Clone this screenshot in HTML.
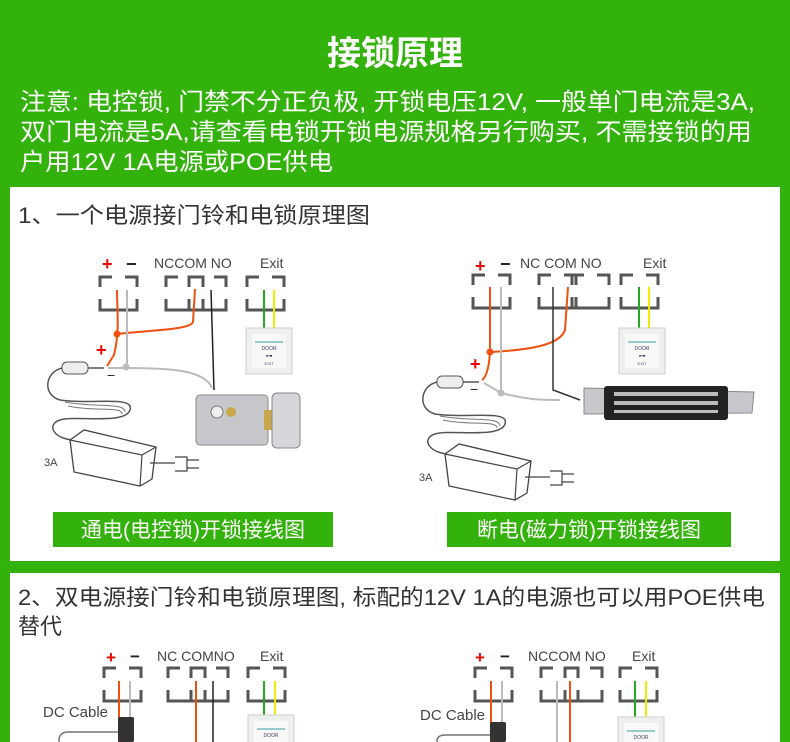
<!DOCTYPE html>
<html><head><meta charset="utf-8"><style>
html,body{margin:0;padding:0;background:#33b20b;}
svg{display:block}
text{font-family:"Liberation Sans","Noto Sans CJK SC",sans-serif}
</style></head><body>
<svg width="790" height="742" viewBox="0 0 790 742" xmlns="http://www.w3.org/2000/svg">
<rect width="790" height="742" fill="#33b20b"/>
<text x="395" y="65" fill="#fff" font-size="34" font-weight="bold" text-anchor="middle">接锁原理</text>
<g fill="#fff" font-size="24">
<text x="20" y="110" textLength="735" lengthAdjust="spacingAndGlyphs">注意: 电控锁, 门禁不分正负极, 开锁电压12V, 一般单门电流是3A,</text>
<text x="20" y="140" textLength="732" lengthAdjust="spacingAndGlyphs">双门电流是5A,请查看电锁开锁电源规格另行购买, 不需接锁的用</text>
<text x="20" y="170" textLength="313" lengthAdjust="spacingAndGlyphs">户用12V 1A电源或POE供电</text>
</g>
<rect x="10" y="187" width="770" height="374" fill="#fff"/>
<rect x="10" y="573" width="770" height="169" fill="#fff"/>
<text x="18" y="223" fill="#333" font-size="22" textLength="352" lengthAdjust="spacingAndGlyphs">1、一个电源接门铃和电锁原理图</text>
<text x="18" y="605" fill="#333" font-size="22" textLength="747" lengthAdjust="spacingAndGlyphs">2、双电源接门铃和电锁原理图, 标配的12V 1A的电源也可以用POE供电</text>
<text x="18" y="634" fill="#333" font-size="22">替代</text>

<defs>
<g id="blk">
<path d="M0 10V0H12 M25 0H37V10 M0 22V33H37V22" fill="none" stroke="#555" stroke-width="3"/>
</g>
<g id="exitbtn">
<rect x="0" y="0" width="46" height="46" fill="#eef0ee" stroke="#ccc"/>
<rect x="6" y="6" width="34" height="34" fill="#f8f8f8"/>
<line x1="9" y1="14" x2="37" y2="14" stroke="#7bb" stroke-width="1.5"/>
<text x="23" y="22" font-size="5" text-anchor="middle" fill="#446">DOOR</text>
<text x="23" y="30" font-size="7" text-anchor="middle" fill="#224">⊶</text>
<text x="23" y="37" font-size="4" text-anchor="middle" fill="#446">EXIT</text>
</g>
<g id="adapter">
<rect x="62" y="362" width="26" height="12" rx="5" fill="#eee" stroke="#555"/>
<line x1="88" y1="368" x2="104" y2="368" stroke="#555" stroke-width="1.5"/>
<path d="M62 368 C45 372 42 395 60 400 C90 405 135 395 130 410 C125 425 75 415 60 420 C45 425 55 440 75 440" fill="none" stroke="#555" stroke-width="1.5"/>
<path d="M65 402 C95 408 125 402 125 412 M68 406 C95 412 122 406 122 414" fill="none" stroke="#777" stroke-width="1"/>
<path d="M70 440 L84 430 L156 447 L152 479 L140 486 L74 472 Z" fill="#fff" stroke="#444" stroke-width="1.3"/>
<path d="M70 440 L142 455 L156 447 M142 455 L140 486" fill="none" stroke="#444" stroke-width="1.2"/>
<path d="M150 463 h25 M175 457 h12 v14 h-12 M187 460 h12 M187 468 h12" stroke="#444" fill="none" stroke-width="1.2"/>
</g>
</defs>

<!-- Diagram 1 -->
<g>
<text x="102" y="270" fill="#e00" font-size="18" font-weight="bold">+</text>
<text x="126" y="270" fill="#222" font-size="18" font-weight="bold">−</text>
<text x="154" y="268" fill="#444" font-size="14">NCCOM NO</text>
<text x="260" y="268" fill="#444" font-size="14">Exit</text>
<use href="#blk" x="100" y="277"/>
<use href="#blk" x="166" y="277"/><use href="#blk" x="189" y="277"/>
<use href="#blk" x="247" y="277"/>
<path d="M117 290 C117 310 120 330 114 355 L107 366" stroke="#f05010" stroke-width="2" fill="none"/>
<path d="M117 334 C150 330 190 330 193 322 L195 289" stroke="#f05010" stroke-width="2" fill="none"/>
<circle cx="117" cy="334" r="3.5" fill="#f05010"/>
<line x1="127" y1="290" x2="127" y2="366" stroke="#bbb" stroke-width="2"/>
<path d="M108 368 L127 368 C170 368 205 370 212 388" stroke="#bbb" stroke-width="2" fill="none"/>
<circle cx="126" cy="367" r="3.5" fill="#bbb"/>
<line x1="211" y1="290" x2="214" y2="390" stroke="#222" stroke-width="1.5"/>
<line x1="264" y1="290" x2="264" y2="328" stroke="#2a2" stroke-width="2"/>
<line x1="274" y1="290" x2="274" y2="328" stroke="#ee0" stroke-width="2"/>
<use href="#exitbtn" x="246" y="328"/>
<text x="96" y="356" fill="#e00" font-size="18" font-weight="bold">+</text>
<text x="107" y="380" fill="#222" font-size="14">−</text>
<rect x="196" y="395" width="72" height="50" rx="4" fill="#c6c8cc" stroke="#888"/>
<circle cx="217" cy="412" r="6" fill="#eee" stroke="#777"/>
<circle cx="231" cy="412" r="5" fill="#c9a84a"/>
<rect x="264" y="410" width="10" height="20" fill="#c9a84a"/>
<rect x="272" y="393" width="28" height="55" rx="5" fill="#d4d6da" stroke="#888"/>
<use href="#adapter"/>
<text x="44" y="466" fill="#444" font-size="11">3A</text>
<rect x="53" y="512" width="280" height="35" fill="#33b20b"/>
<text x="193" y="537" fill="#fff" font-size="21" text-anchor="middle">通电(电控锁)开锁接线图</text>
</g>

<!-- Diagram 2 -->
<g>
<text x="475" y="272" fill="#e00" font-size="18" font-weight="bold">+</text>
<text x="500" y="270" fill="#222" font-size="18" font-weight="bold">−</text>
<text x="520" y="268" fill="#444" font-size="14">NC COM NO</text>
<text x="643" y="268" fill="#444" font-size="14">Exit</text>
<use href="#blk" x="473" y="275"/>
<use href="#blk" x="539" y="275"/><use href="#blk" x="572" y="275"/>
<use href="#blk" x="621" y="275"/>
<path d="M490 287 L490 345 C490 370 485 378 482 380" stroke="#f05010" stroke-width="2" fill="none"/>
<path d="M490 352 C530 350 560 345 565 330 L568 287" stroke="#f05010" stroke-width="2" fill="none"/>
<circle cx="490" cy="352" r="3.5" fill="#f05010"/>
<line x1="501" y1="287" x2="501" y2="393" stroke="#bbb" stroke-width="2"/>
<path d="M484 383 L501 393 C530 400 540 400 560 400" stroke="#bbb" stroke-width="2" fill="none"/>
<circle cx="501" cy="393" r="3.5" fill="#bbb"/>
<path d="M553 287 L553 390 L580 400" stroke="#333" stroke-width="1.5" fill="none"/>
<line x1="639" y1="287" x2="639" y2="328" stroke="#2a2" stroke-width="2"/>
<line x1="649" y1="287" x2="649" y2="328" stroke="#ee0" stroke-width="2"/>
<use href="#exitbtn" x="619" y="328"/>
<text x="470" y="370" fill="#e00" font-size="18" font-weight="bold">+</text>
<text x="470" y="394" fill="#222" font-size="14">−</text>
<path d="M584 388 L754 392 L752 413 L584 414 Z" fill="#c8c8cc" stroke="#888"/>
<rect x="604" y="386" width="124" height="34" rx="3" fill="#222"/>
<rect x="614" y="392" width="104" height="4" fill="#bbb"/>
<rect x="614" y="401" width="104" height="4" fill="#bbb"/>
<rect x="614" y="410" width="104" height="3" fill="#bbb"/>
<use href="#adapter" transform="translate(375,14)"/>
<text x="419" y="481" fill="#444" font-size="11">3A</text>
<rect x="447" y="512" width="284" height="35" fill="#33b20b"/>
<text x="589" y="537" fill="#fff" font-size="21" text-anchor="middle">断电(磁力锁)开锁接线图</text>
</g>

<!-- Panel 2 diagrams -->
<g>
<text x="106" y="663" fill="#e00" font-size="17" font-weight="bold">+</text>
<text x="130" y="662" fill="#222" font-size="17" font-weight="bold">−</text>
<text x="157" y="661" fill="#444" font-size="14">NC COMNO</text>
<text x="260" y="661" fill="#444" font-size="14">Exit</text>
<use href="#blk" x="104" y="668"/>
<use href="#blk" x="168" y="668"/><use href="#blk" x="191" y="668"/>
<use href="#blk" x="248" y="668"/>
<line x1="119" y1="681" x2="119" y2="742" stroke="#f05010" stroke-width="2"/>
<line x1="130" y1="681" x2="130" y2="742" stroke="#bbb" stroke-width="2"/>
<line x1="196" y1="681" x2="196" y2="742" stroke="#f05010" stroke-width="2"/>
<line x1="213" y1="681" x2="213" y2="742" stroke="#222" stroke-width="1.5"/>
<line x1="264" y1="681" x2="264" y2="715" stroke="#2a2" stroke-width="2"/>
<line x1="275" y1="681" x2="275" y2="715" stroke="#ee0" stroke-width="2"/>
<use href="#exitbtn" x="248" y="715"/>
<text x="43" y="717" fill="#444" font-size="15">DC Cable</text>
<rect x="118" y="717" width="16" height="25" rx="2" fill="#333"/>
<path d="M118 732 H68 C58 732 58 742 60 742" fill="none" stroke="#777" stroke-width="1.5"/>
</g>
<g>
<text x="475" y="663" fill="#e00" font-size="17" font-weight="bold">+</text>
<text x="500" y="662" fill="#222" font-size="17" font-weight="bold">−</text>
<text x="528" y="661" fill="#444" font-size="14">NCCOM NO</text>
<text x="632" y="661" fill="#444" font-size="14">Exit</text>
<use href="#blk" x="475" y="668"/>
<use href="#blk" x="541" y="668"/><use href="#blk" x="565" y="668"/>
<use href="#blk" x="620" y="668"/>
<line x1="491" y1="681" x2="491" y2="742" stroke="#f05010" stroke-width="2"/>
<line x1="502" y1="681" x2="502" y2="742" stroke="#bbb" stroke-width="2"/>
<line x1="557" y1="681" x2="557" y2="742" stroke="#bbb" stroke-width="2"/>
<line x1="570" y1="681" x2="570" y2="742" stroke="#f05010" stroke-width="2"/>
<line x1="635" y1="681" x2="635" y2="718" stroke="#2a2" stroke-width="2"/>
<line x1="646" y1="681" x2="646" y2="718" stroke="#ee0" stroke-width="2"/>
<use href="#exitbtn" x="618" y="717"/>
<text x="420" y="720" fill="#444" font-size="15">DC Cable</text>
<rect x="490" y="722" width="16" height="20" rx="2" fill="#333"/>
<path d="M490 735 H445 C436 735 436 742 438 742" fill="none" stroke="#777" stroke-width="1.5"/>
</g>
</svg>
</body></html>
